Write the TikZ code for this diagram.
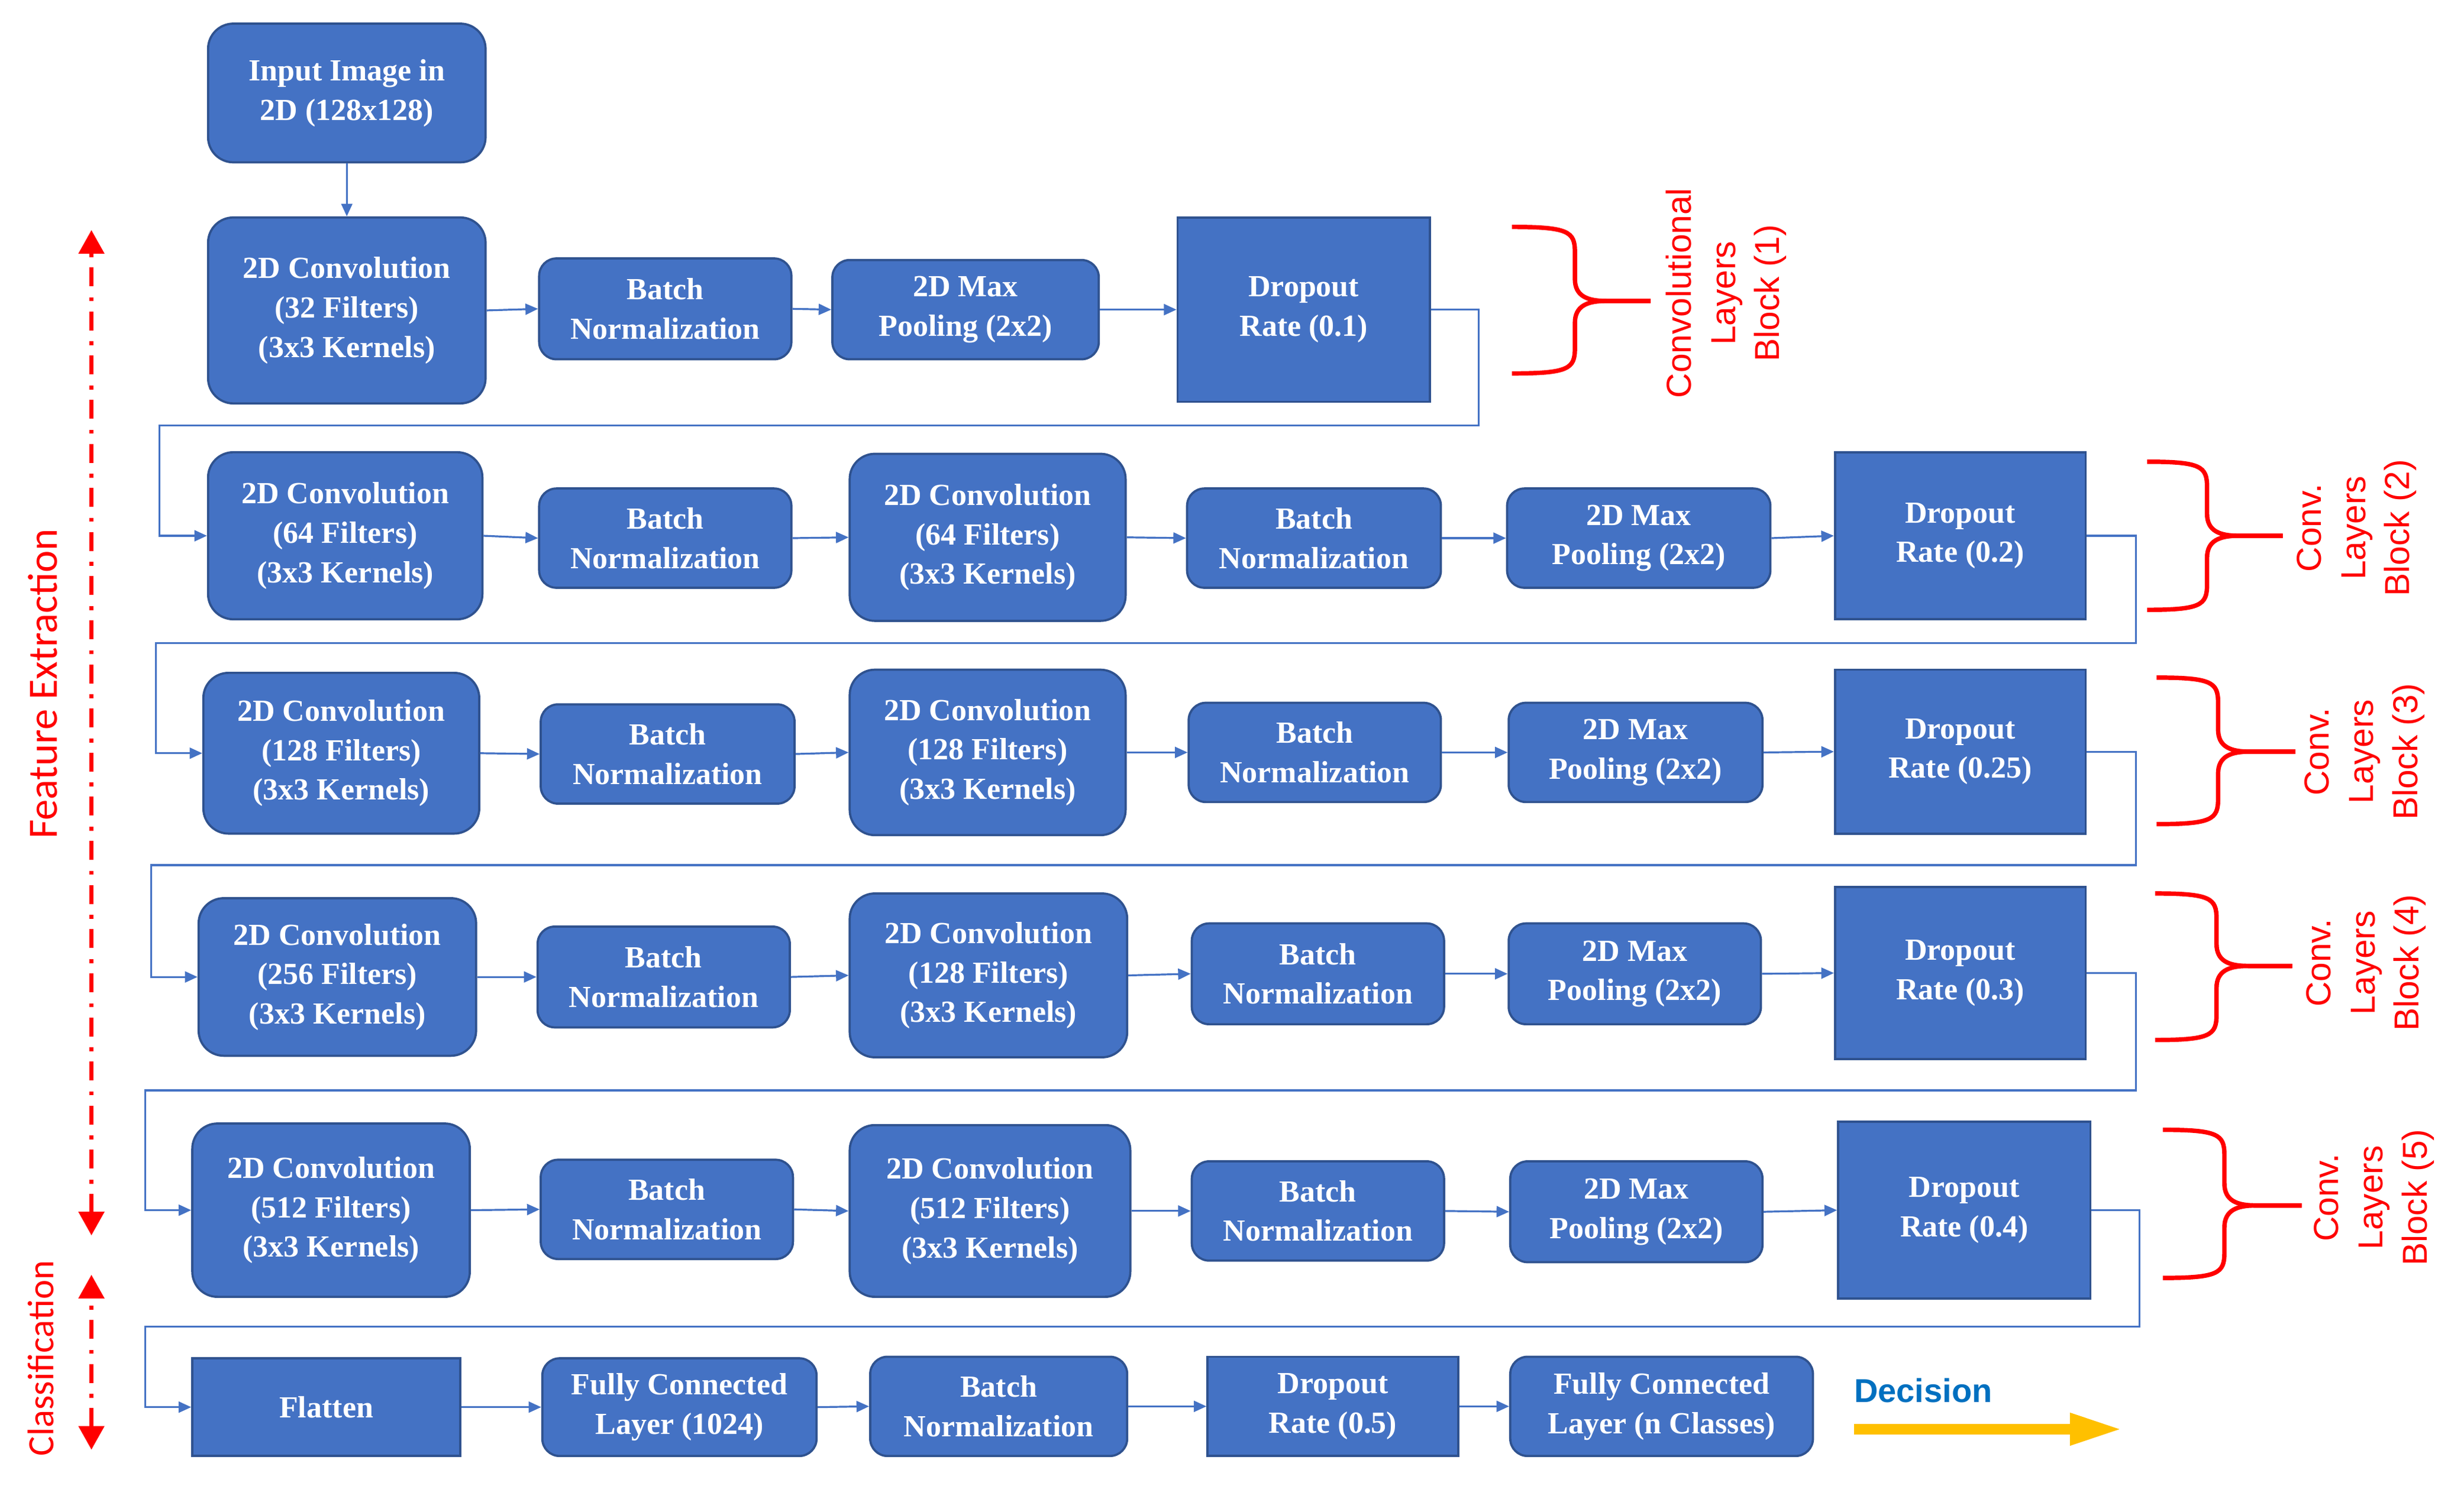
\documentclass[tikz,border=0pt]{standalone}
\usepackage{fontspec}
\setmainfont{Liberation Serif}
\newfontfamily\lsans{Liberation Sans}
\newfontfamily\carl{Carlito}
\usetikzlibrary{arrows.meta}
\definecolor{bfill}{HTML}{4472C4}
\definecolor{bdraw}{HTML}{2F528F}
\definecolor{redc}{HTML}{FF0000}
\definecolor{decb}{HTML}{0070C0}
\definecolor{yel}{HTML}{FFC000}
\begin{document}
\begin{tikzpicture}[x=1pt,y=-1pt,
  boxbase/.style={fill=bfill,draw=bdraw,line width=1.4pt,text=white,align=center,inner sep=0pt,
    font=\bfseries\fontsize{19.5}{25}\selectfont},
  rbig/.style={boxbase,rounded corners=16pt},
  rsmall/.style={boxbase,rounded corners=11pt},
  sqbox/.style={boxbase},
  conn/.style={draw=bfill,line width=1.2pt,-{Triangle[length=8pt,width=7pt]}},
  retl/.style={draw=bfill,line width=1.2pt,-{Triangle[length=8pt,width=7pt]}},
  brace/.style={draw=redc,line width=2.8pt},
  blab/.style={text=redc,rotate=90,align=center,font=\lsans\fontsize{22}{28}\selectfont},
  redarr/.style={draw=redc,line width=2.6pt,dash pattern=on 12pt off 6.5pt on 2.5pt off 7pt,
    {Triangle[length=15pt,width=16pt]}-{Triangle[length=15pt,width=16pt]}}
]
\useasboundingbox (0,0) rectangle (1563,943);

% row 0
\node[rbig,minimum width=176pt,minimum height=88pt] (in) at (220,59) {Input Image in\\2D (128x128)};
% row 1
\node[rbig,minimum width=176pt,minimum height=118pt] (c1) at (220,197) {2D Convolution\\(32 Filters)\\(3x3 Kernels)};
\node[rsmall,minimum width=160pt,minimum height=64pt] (b1) at (422,196) {Batch\\Normalization};
\node[rsmall,minimum width=169pt,minimum height=63pt] (p1) at (612.5,196.5) {2D Max\\Pooling (2x2)};
\node[sqbox,minimum width=160pt,minimum height=117pt] (d1) at (827,196.5) {Dropout\\Rate (0.1)};
% row 2
\node[rbig,minimum width=174pt,minimum height=106pt] (c2a) at (219,340) {2D Convolution\\(64 Filters)\\(3x3 Kernels)};
\node[rsmall,minimum width=160pt,minimum height=63pt] (b2a) at (422,341.5) {Batch\\Normalization};
\node[rbig,minimum width=175pt,minimum height=106pt] (c2b) at (626.5,341) {2D Convolution\\(64 Filters)\\(3x3 Kernels)};
\node[rsmall,minimum width=161pt,minimum height=63pt] (b2b) at (833.5,341.5) {Batch\\Normalization};
\node[rsmall,minimum width=167pt,minimum height=63pt] (p2) at (1039.5,341.5) {2D Max\\Pooling (2x2)};
\node[sqbox,minimum width=159pt,minimum height=106pt] (d2) at (1243.5,340) {Dropout\\Rate (0.2)};
% row 3
\node[rbig,minimum width=175pt,minimum height=102pt] (c3a) at (216.5,478) {2D Convolution\\(128 Filters)\\(3x3 Kernels)};
\node[rsmall,minimum width=161pt,minimum height=63pt] (b3a) at (423.5,478.5) {Batch\\Normalization};
\node[rbig,minimum width=175pt,minimum height=105pt] (c3b) at (626.5,477.5) {2D Convolution\\(128 Filters)\\(3x3 Kernels)};
\node[rsmall,minimum width=160pt,minimum height=63pt] (b3b) at (834,477.5) {Batch\\Normalization};
\node[rsmall,minimum width=161pt,minimum height=63pt] (p3) at (1037.5,477.5) {2D Max\\Pooling (2x2)};
\node[sqbox,minimum width=159pt,minimum height=104pt] (d3) at (1243.5,477) {Dropout\\Rate (0.25)};
% row 4
\node[rbig,minimum width=176pt,minimum height=100pt] (c4a) at (214,620) {2D Convolution\\(256 Filters)\\(3x3 Kernels)};
\node[rsmall,minimum width=160pt,minimum height=64pt] (b4a) at (421,620) {Batch\\Normalization};
\node[rbig,minimum width=176pt,minimum height=104pt] (c4b) at (627,619) {2D Convolution\\(128 Filters)\\(3x3 Kernels)};
\node[rsmall,minimum width=160pt,minimum height=64pt] (b4b) at (836,618) {Batch\\Normalization};
\node[rsmall,minimum width=160pt,minimum height=64pt] (p4) at (1037,618) {2D Max\\Pooling (2x2)};
\node[sqbox,minimum width=159pt,minimum height=109pt] (d4) at (1243.5,617.5) {Dropout\\Rate (0.3)};
% row 5
\node[rbig,minimum width=176pt,minimum height=110pt] (c5a) at (210,768) {2D Convolution\\(512 Filters)\\(3x3 Kernels)};
\node[rsmall,minimum width=160pt,minimum height=63pt] (b5a) at (423,767.5) {Batch\\Normalization};
\node[rbig,minimum width=178pt,minimum height=109pt] (c5b) at (628,768.5) {2D Convolution\\(512 Filters)\\(3x3 Kernels)};
\node[rsmall,minimum width=160pt,minimum height=63pt] (b5b) at (836,768.5) {Batch\\Normalization};
\node[rsmall,minimum width=160pt,minimum height=64pt] (p5) at (1038,769) {2D Max\\Pooling (2x2)};
\node[sqbox,minimum width=160pt,minimum height=112pt] (d5) at (1246,768) {Dropout\\Rate (0.4)};
% row 6
\node[sqbox,minimum width=170pt,minimum height=62pt] (fl) at (207,893) {Flatten};
\node[rsmall,minimum width=174pt,minimum height=62pt] (fc1) at (431,893) {Fully Connected\\Layer (1024)};
\node[rsmall,minimum width=163pt,minimum height=63pt] (b6) at (633.5,892.5) {Batch\\Normalization};
\node[sqbox,minimum width=159pt,minimum height=63pt] (d6) at (845.5,892.5) {Dropout\\Rate (0.5)};
\node[rsmall,minimum width=192pt,minimum height=63pt] (fc2) at (1054,892.5) {Fully Connected\\Layer (n Classes)};

% in-row connectors
\draw[conn] (in.south) -- (c1.north);
\draw[conn] (c1.east) -- (b1.west);
\draw[conn] (b1.east) -- (p1.west);
\draw[conn] (p1.east) -- (d1.west);
\draw[conn] (c2a.east) -- (b2a.west);
\draw[conn] (b2a.east) -- (c2b.west);
\draw[conn] (c2b.east) -- (b2b.west);
\draw[conn] (b2b.east) -- (p2.west);
\draw[conn] (p2.east) -- (d2.west);
\draw[conn] (c3a.east) -- (b3a.west);
\draw[conn] (b3a.east) -- (c3b.west);
\draw[conn] (c3b.east) -- (b3b.west);
\draw[conn] (b3b.east) -- (p3.west);
\draw[conn] (p3.east) -- (d3.west);
\draw[conn] (c4a.east) -- (b4a.west);
\draw[conn] (b4a.east) -- (c4b.west);
\draw[conn] (c4b.east) -- (b4b.west);
\draw[conn] (b4b.east) -- (p4.west);
\draw[conn] (p4.east) -- (d4.west);
\draw[conn] (c5a.east) -- (b5a.west);
\draw[conn] (b5a.east) -- (c5b.west);
\draw[conn] (c5b.east) -- (b5b.west);
\draw[conn] (b5b.east) -- (p5.west);
\draw[conn] (p5.east) -- (d5.west);
\draw[conn] (fl.east) -- (fc1.west);
\draw[conn] (fc1.east) -- (b6.west);
\draw[conn] (b6.east) -- (d6.west);
\draw[conn] (d6.east) -- (fc2.west);

% return connectors
\coordinate (k1a) at (938,270); \coordinate (k1b) at (101,270);
\coordinate (k2a) at (1355,408); \coordinate (k2b) at (99,408);
\coordinate (k3a) at (1355,549); \coordinate (k3b) at (96,549);
\coordinate (k4a) at (1355,692); \coordinate (k4b) at (92,692);
\coordinate (k5a) at (1357,842); \coordinate (k5b) at (92,842);
\draw[retl] (d1.east) -| (k1a) -- (k1b) |- (c2a.west);
\draw[retl] (d2.east) -| (k2a) -- (k2b) |- (c3a.west);
\draw[retl] (d3.east) -| (k3a) -- (k3b) |- (c4a.west);
\draw[retl] (d4.east) -| (k4a) -- (k4b) |- (c5a.west);
\draw[retl] (d5.east) -| (k5a) -- (k5b) |- (fl.west);

% braces
\foreach \L/\V/\T/\yt/\ym/\yb in {959/999/1047/144/191/237, 1362/1400/1448/293/340/387, 1368/1407/1456/430/477/523, 1367/1406/1454/567/613/660, 1372/1411/1460/717/765/811}{
  \draw[brace,line join=round] (\L,\yt) .. controls ({\V-4},\yt) and (\V,{\yt+3}) .. (\V,{\yt+16})
     -- (\V,{\ym-14}) .. controls (\V,{\ym-3}) and ({\V+8},\ym) .. ({\V+20},\ym) -- (\T,\ym);
  \draw[brace,line join=round] (\L,\yb) .. controls ({\V-4},\yb) and (\V,{\yb-3}) .. (\V,{\yb-16})
     -- (\V,{\ym+14}) .. controls (\V,{\ym+3}) and ({\V+8},\ym) .. ({\V+20},\ym) -- (\T,\ym);
}

% block labels
\node[blab] (lb1) at (1095,186) {Convolutional\\Layers\\Block (1)};
\node[blab] (lb2) at (1495,335) {Conv.\\Layers\\Block (2)};
\node[blab] (lb3) at (1500,477) {Conv.\\Layers\\Block (3)};
\node[blab] (lb4) at (1501,611) {Conv.\\Layers\\Block (4)};
\node[blab] (lb5) at (1506,760) {Conv.\\Layers\\Block (5)};

% left arrows and labels
\coordinate (fe1) at (58,146); \coordinate (fe2) at (58,784);
\coordinate (cl1) at (58,809); \coordinate (cl2) at (58,920);
\draw[redarr] (fe2) -- (fe1);
\draw[redarr] (cl2) -- (cl1);
\node[text=redc,rotate=90,font=\carl\fontsize{26.5}{30}\selectfont] (fe) at (27,434) {Feature Extraction};
\node[text=redc,rotate=90,font=\carl\fontsize{23.5}{28}\selectfont] (cl) at (26,862) {Classification};

% decision
\node[text=decb,anchor=base west,inner sep=0pt,font=\lsans\bfseries\fontsize{21}{25}\selectfont] (dec) at (1176,890) {Decision};
\coordinate (da) at (1176,907); \coordinate (db) at (1346,907);
\draw[draw=yel,fill=yel,line width=6.5pt,-{Triangle[length=33pt,width=19pt]}] (da) -- (db);
\end{tikzpicture}
\end{document}
